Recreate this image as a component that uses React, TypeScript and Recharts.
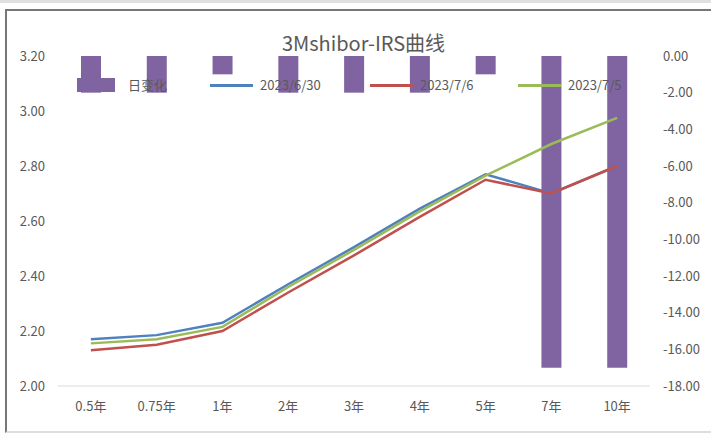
import React from 'react';
import {
  ComposedChart,
  Bar,
  Line,
  XAxis,
  YAxis,
} from 'recharts';

// tenors and values
const tenors = ['0.5年', '0.75年', '1年', '2年', '3年', '4年', '5年', '7年', '10年'];
const dailyChange = [-2, -2, -1, -2, -2, -2, -1, -17, -17];
const curve0630 = [2.17, 2.185, 2.23, 2.37, 2.505, 2.645, 2.77, 2.7, 2.8];
const curve0706 = [2.13, 2.15, 2.2, 2.34, 2.475, 2.615, 2.75, 2.7, 2.8];
const curve0705 = [2.155, 2.17, 2.215, 2.36, 2.495, 2.635, 2.765, 2.88, 2.975];
const leftTicks = [2.0, 2.2, 2.4, 2.6, 2.8, 3.0, 3.2];
const rightTicks = [0, -2, -4, -6, -8, -10, -12, -14, -16, -18];

const data = tenors.map((t, i) => ({
  tenor: t,
  chg: dailyChange[i],
  a: curve0630[i],
  b: curve0706[i],
  c: curve0705[i],
}));

const FONT = '"Noto Sans CJK SC", "Noto Sans", sans-serif';
const GREY = '#595959';
const tick = { fontSize: 13, fill: GREY, fontFamily: FONT };

const PURPLE = '#8064A2';
const BLUE = '#4F81BD';
const RED = '#C0504D';
const GREEN = '#9BBB59';

function LegendRow() {
  const txt: React.CSSProperties = { position: 'absolute', top: 76, fontSize: 13, color: GREY, fontFamily: FONT, lineHeight: '18px' };
  const line = (left: number, color: string): React.CSSProperties => ({
    position: 'absolute', left, top: 84, width: 43, height: 3, background: color,
  });
  return (
    <>
      <div style={{ position: 'absolute', left: 77, top: 78, width: 38, height: 14, background: PURPLE }} />
      <div style={{ ...txt, left: 128 }}>日变化</div>
      <div style={line(210, BLUE)} />
      <div style={{ ...txt, left: 260 }}>2023/6/30</div>
      <div style={line(370, RED)} />
      <div style={{ ...txt, left: 420 }}>2023/7/6</div>
      <div style={line(518, GREEN)} />
      <div style={{ ...txt, left: 568 }}>2023/7/5</div>
    </>
  );
}

export default function App() {
  return (
    <div style={{ position: 'absolute', left: 0, top: 0, width: 711, height: 439, background: '#fff', overflow: 'hidden' }}>
      {/* frame of the original screenshot */}
      <div style={{ position: 'absolute', left: 0, top: 0, width: 711, height: 3, background: '#e0e0e0' }} />
      <div style={{ position: 'absolute', left: 5, top: 9, width: 720, height: 420, borderLeft: '2px solid #777', borderTop: '2px solid #777', borderBottom: '2px solid #ddd' }} />

      <div style={{ position: 'absolute', top: 0 }}>
        <ComposedChart width={711} height={439} data={data} margin={{ top: 56, right: 0, left: 0, bottom: 10 }}>
          <XAxis
            dataKey="tenor"
            tick={tick}
            tickLine={false}
            tickSize={0}
            tickMargin={16}
            height={43}
            stroke="#d9d9d9"
            interval={0}
          />
          <YAxis
            yAxisId="left"
            domain={[2, 3.2]}
            ticks={leftTicks}
            tickFormatter={(v: number) => v.toFixed(2)}
            tick={tick}
            axisLine={false}
            tickLine={false}
            tickSize={0}
            tickMargin={13}
            width={58}
          />
          <YAxis
            yAxisId="right"
            orientation="right"
            domain={[-18, 0]}
            ticks={rightTicks}
            tickFormatter={(v: number) => v.toFixed(2)}
            tick={{ ...tick, textAnchor: 'start' }}
            axisLine={false}
            tickLine={false}
            tickSize={0}
            tickMargin={13}
            width={61}
          />
          <Bar yAxisId="right" dataKey="chg" fill={PURPLE} barSize={20} isAnimationActive={false} />
          <Line yAxisId="left" type="linear" dataKey="a" stroke={BLUE} strokeWidth={2.5} dot={false} isAnimationActive={false} />
          <Line yAxisId="left" type="linear" dataKey="b" stroke={RED} strokeWidth={2.5} dot={false} isAnimationActive={false} />
          <Line yAxisId="left" type="linear" dataKey="c" stroke={GREEN} strokeWidth={2.5} dot={false} isAnimationActive={false} />
        </ComposedChart>
      </div>

      <div style={{ position: 'absolute', left: 0, width: 711, top: 28, textAlign: 'center', fontSize: 20, color: GREY, fontFamily: FONT, paddingLeft: 8 }}>
        3Mshibor-IRS曲线
      </div>
      <LegendRow />
    </div>
  );
}
